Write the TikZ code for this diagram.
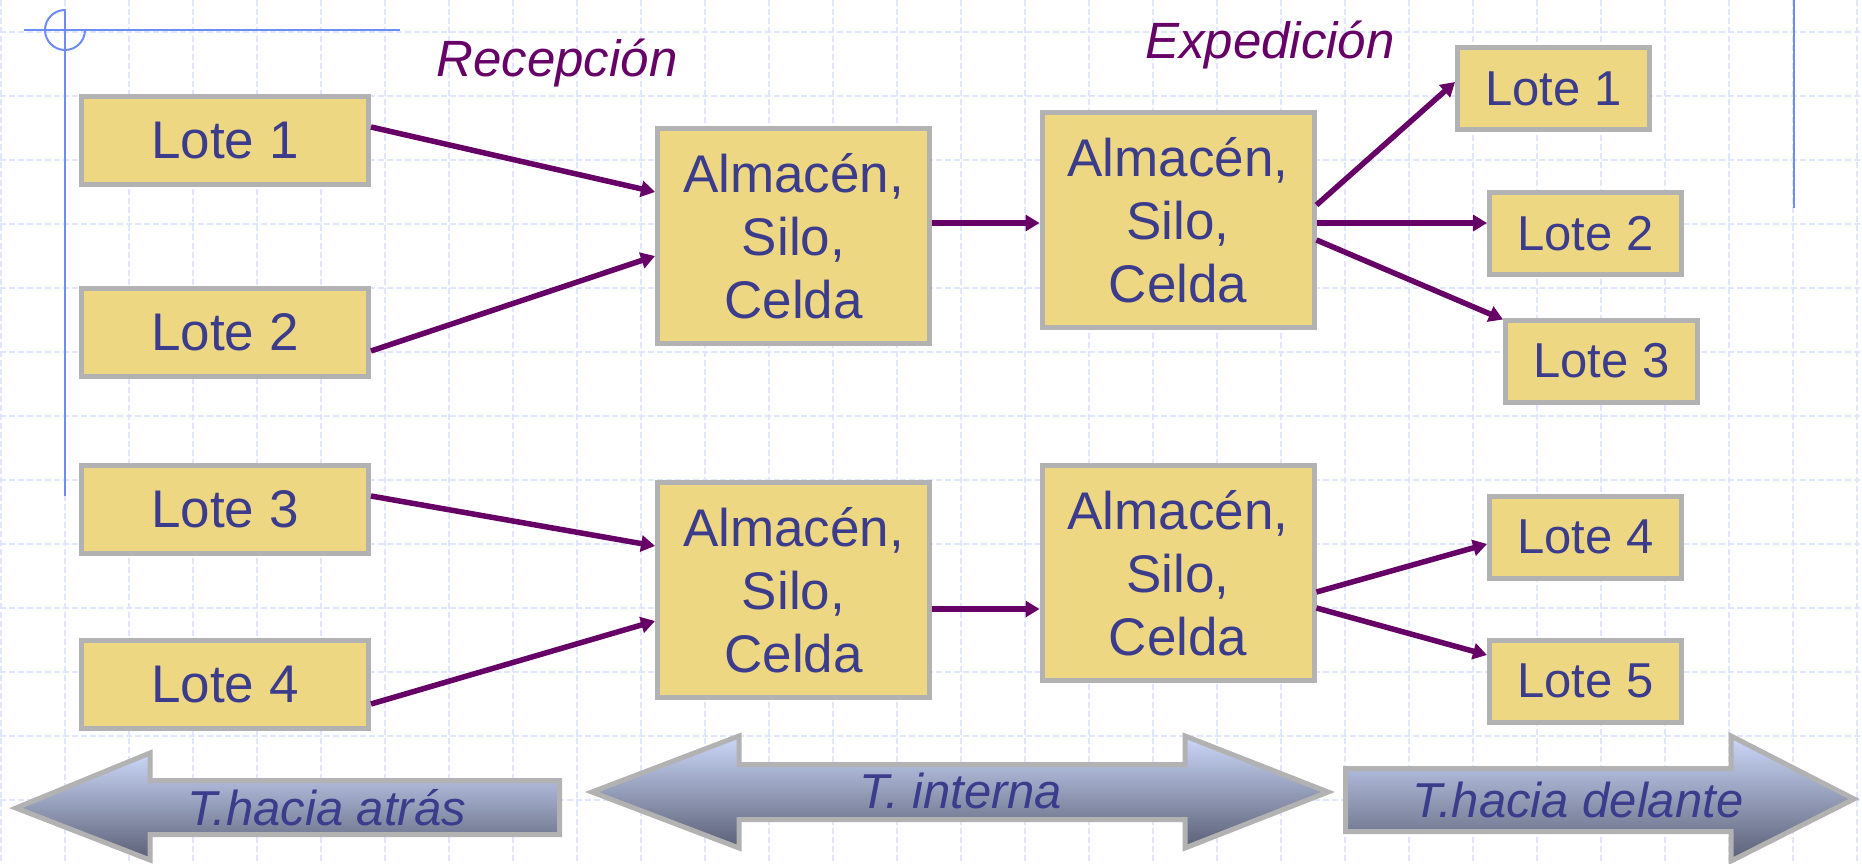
\documentclass[tikz,border=0pt]{standalone}
\usepackage{fontspec}
\setmainfont{Liberation Sans}
\usetikzlibrary{arrows.meta}

\definecolor{boxfill}{RGB}{237,215,131}
\definecolor{boxgray}{RGB}{178,178,178}
\definecolor{txtblue}{RGB}{60,60,140}
\definecolor{flowpurple}{RGB}{102,0,102}
\definecolor{gridblue}{RGB}{224,231,252}
\definecolor{rulerblue}{RGB}{110,140,245}
\definecolor{arrowtop}{RGB}{204,216,250}
\definecolor{arrowbot}{RGB}{90,95,117}

\begin{document}
\begin{tikzpicture}[x=1pt, y=-1pt,
    rejilla/.style={gridblue, line width=1.5pt, dash pattern=on 6pt off 3pt},
    regla/.style={rulerblue, line width=2pt},
    lote/.style={draw=boxgray, line width=5pt, fill=boxfill, text=txtblue,
                 inner sep=0pt, minimum width=287pt, minimum height=88pt,
                 font=\fontsize{53}{60}\selectfont},
    lotesal/.style={lote, minimum width=192pt, minimum height=82pt,
                    font=\fontsize{49}{56}\selectfont},
    almacen/.style={lote, minimum width=272pt, minimum height=215pt,
                    align=center, font=\fontsize{53}{63}\selectfont},
    flow/.style={draw=flowpurple, line width=5.5pt,
                 -{Triangle[length=14pt, width=16pt]}},
    titulo/.style={anchor=base, text=flowpurple, inner sep=0pt,
                   font=\fontsize{51}{60}\selectfont\itshape},
    flecha/.style={draw=boxgray, line width=5pt, line join=miter,
                   top color=arrowtop, bottom color=arrowbot},
    rotulo/.style={anchor=base, text=txtblue, inner sep=0pt,
                   font=\fontsize{49}{56}\selectfont\itshape}]
  \useasboundingbox[fill=white] (0,0) rectangle (1862,864);

  \foreach \gx in {1,65,...,1857} {
      \draw[rejilla] (\gx,0) -- (\gx,864);
    }
  \foreach \gy in {32,96,...,800} {
      \draw[rejilla] (0,\gy) -- (1862,\gy);
    }

  \draw[regla] (24,30) -- (400,30);
  \draw[regla] (65,9) -- (65,496);
  \draw[regla] (65,10) arc[start angle=90, end angle=360, radius=20pt];
  \draw[regla] (1794,0) -- (1794,208);

  \node[titulo] (recep) at (557,77) {Recepción};
  \node[titulo] (exped) at (1270,59) {Expedición};

  \node[lote] (L1) at (225,140.5) {Lote 1};
  \node[lote] (L2) at (225,332.5) {Lote 2};
  \node[lote] (L3) at (225,509.5) {Lote 3};
  \node[lote] (L4) at (225,684.5) {Lote 4};

  \node[almacen] (A1) at (793.5,236) {Almacén,\\Silo,\\Celda};
  \node[almacen] (A2) at (793.5,590) {Almacén,\\Silo,\\Celda};
  \node[almacen] (A3) at (1178,220) {Almacén,\\Silo,\\Celda};
  \node[almacen] (A4) at (1178,573) {Almacén,\\Silo,\\Celda};

  \node[lotesal] (S1) at (1553.5,88.5) {Lote 1};
  \node[lotesal] (S2) at (1585.5,233.5) {Lote 2};
  \node[lotesal] (S3) at (1601.5,361) {Lote 3};
  \node[lotesal] (S4) at (1585.5,537) {Lote 4};
  \node[lotesal] (S5) at (1585.5,681) {Lote 5};

  \draw[flow] ([yshift=13.5pt]L1.east) -- ([yshift=44pt]A1.west);
  \draw[flow] ([yshift=-18.5pt]L2.east) -- ([yshift=-20pt]A1.west);
  \draw[flow] ([yshift=13.5pt]L3.east) -- ([yshift=44pt]A2.west);
  \draw[flow] ([yshift=-19.5pt]L4.east) -- ([yshift=-31pt]A2.west);

  \draw[flow] ([yshift=13pt]A1.east) -- ([yshift=13pt]A1.east -| A3.west);
  \draw[flow] ([yshift=-19pt]A2.east) -- ([yshift=-19pt]A2.east -| A4.west);

  \draw[flow] ([yshift=15pt]A3.east) -- ([yshift=6.5pt]S1.west);
  \draw[flow] ([yshift=-3pt]A3.east) -- ([yshift=-3pt]A3.east -| S2.west);
  \draw[flow] ([yshift=-20pt]A3.east) -- ([yshift=-2pt]S3.north west);
  \draw[flow] ([yshift=-19pt]A4.east) -- ([yshift=-7pt]S4.west);
  \draw[flow] ([yshift=-35pt]A4.east) -- ([yshift=26pt]S5.west);

  \draw[flecha] (16,808) -- (150,753) -- (150,780.5) -- (559.5,780.5)
    -- (559.5,834.5) -- (150,834.5) -- (150,860) -- cycle;
  \draw[flecha] (592,792) -- (739,736) -- (739,764.5) -- (1185,764.5)
    -- (1185,736) -- (1328,792) -- (1185,848) -- (1185,819.5)
    -- (739,819.5) -- (739,848) -- cycle;
  \draw[flecha] (1345.5,768.5) -- (1731,768.5) -- (1731,736) -- (1854,799)
    -- (1731,861) -- (1731,831.5) -- (1345.5,831.5) -- cycle;

  \node[rotulo] (atras) at (326.5,825) {T.hacia atrás};
  \node[rotulo] (interna) at (961,808) {T. interna};
  \node[rotulo] (delante) at (1578,817) {T.hacia delante};
\end{tikzpicture}
\end{document}
